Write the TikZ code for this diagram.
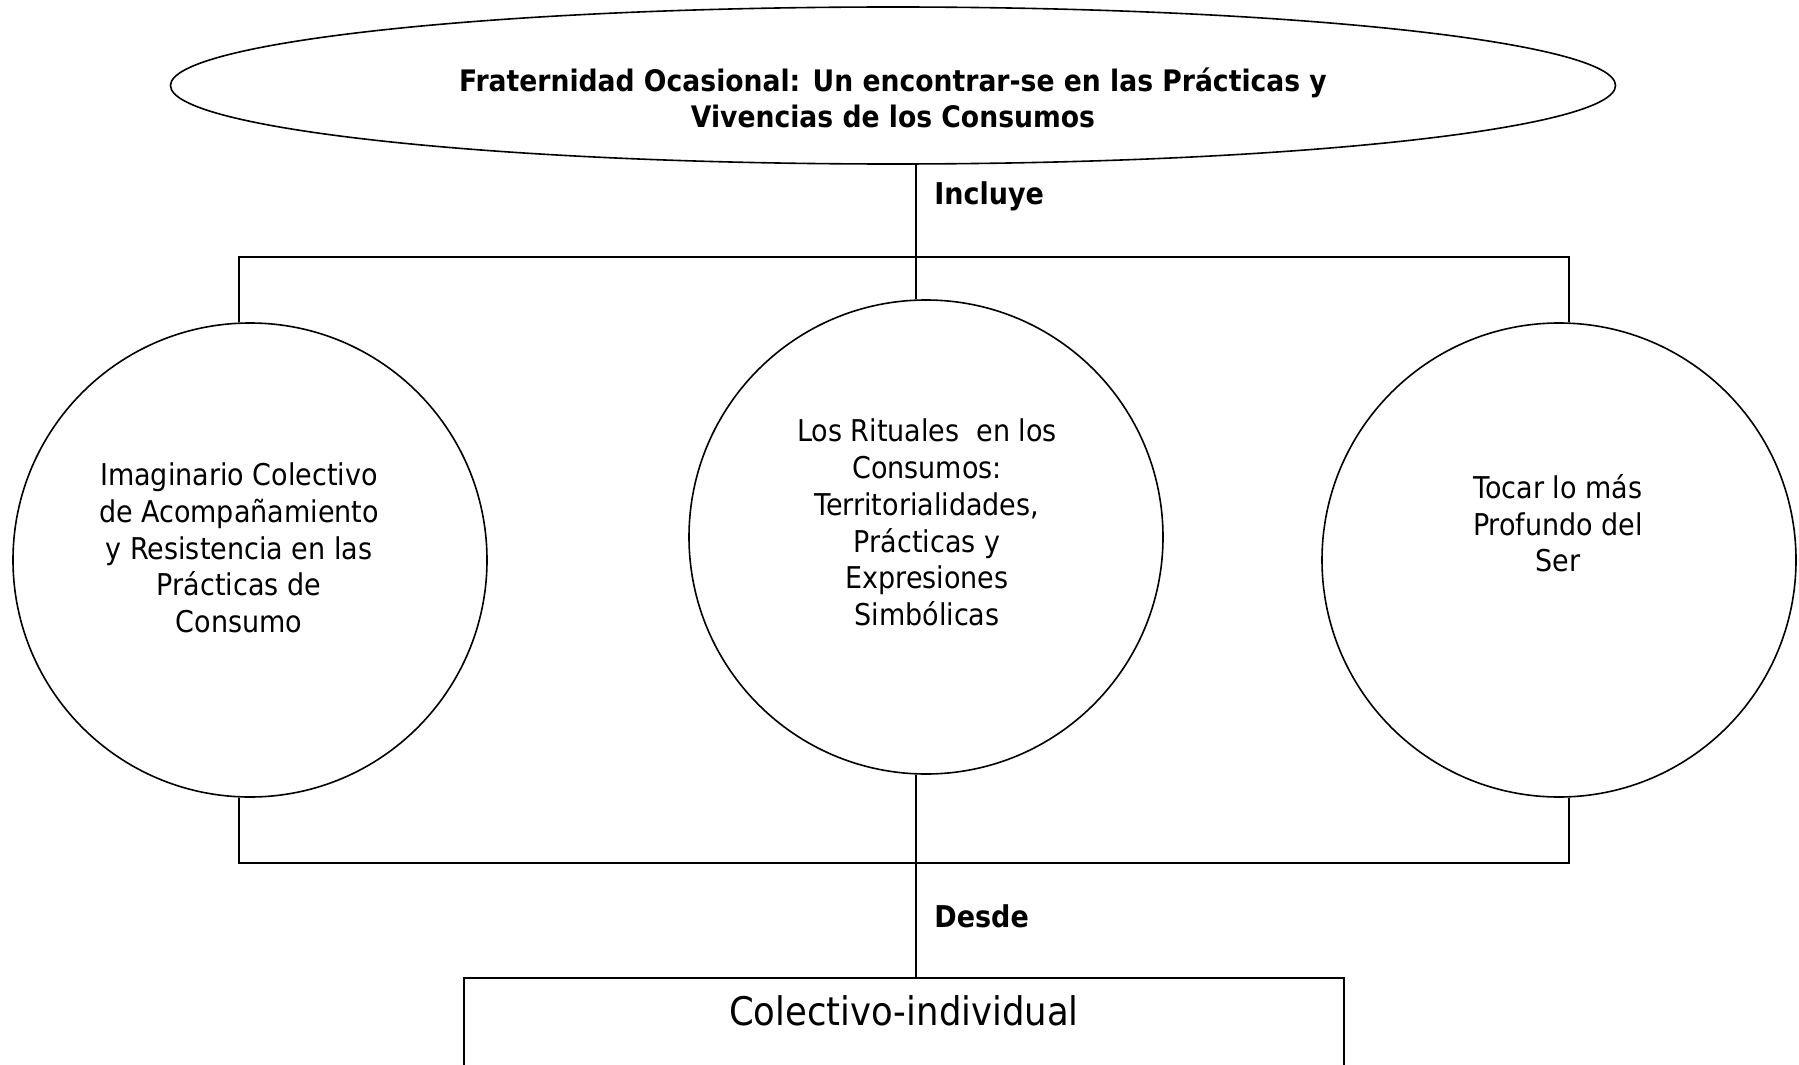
\documentclass[tikz,border=0pt]{standalone}
\usepackage{fontspec}
\setmainfont{DejaVuSansCondensed}[Extension=.ttf, BoldFont=DejaVuSansCondensed-Bold]
\usetikzlibrary{shapes.geometric}

\begin{document}
\begin{tikzpicture}[x=0.5pt, y=-0.5pt,
  every node/.style={inner sep=0pt, font=\fontsize{15pt}{18.35pt}\selectfont},
  oval/.style={draw, ellipse, line width=0.8pt, minimum width=722.5pt, minimum height=78.5pt},
  ring/.style={draw, circle, line width=0.8pt, minimum size=237pt},
  txt/.style={align=center},
  tag/.style={anchor=base west, font=\fontsize{15pt}{18.35pt}\selectfont\bfseries},
  box/.style={draw, rectangle, line width=0.8pt, anchor=north, minimum width=440pt,
    inner sep=9pt, text depth=80pt, font=\fontsize{19.7pt}{24pt}\selectfont}
]
\useasboundingbox (0,0) rectangle (1799,1065);
\clip (0,0) rectangle (1799,1065);

\node[oval] (title) at (893,85.5) {};
\node[txt, font=\fontsize{14.8pt}{18.35pt}\selectfont\bfseries] (titletxt) at (893,98)
  {Fraternidad Ocasional: Un encontrar-se en las Prácticas y\\ Vivencias de los Consumos};

\node[ring] (imag) at (250,560) {};
\node[ring] (rit) at (926,537) {};
\node[ring] (tocar) at (1559,560) {};

\node[txt] (imagtxt) at (239,548)
  {Imaginario Colectivo\\ de Acompañamiento\\ y Resistencia en las\\ Prácticas de\\ Consumo};
\node[txt] (rittxt) at (927,522.5)
  {Los Rituales\ \ en los\\ Consumos:\\ Territorialidades,\\ Prácticas y\\ Expresiones\\ Simbólicas};
\node[txt] (tocartxt) at (1558,523.5)
  {Tocar lo más\\ Profundo del\\ Ser};

\node[box] (colect) at (904,977) {Colectivo-individual};

\node[tag] (incl) at (934,204) {Incluye};
\node[tag] (desde) at (934,927) {Desde};

\coordinate (jtop) at (916,257);
\coordinate (jbot) at (916,863);

\draw[line width=0.8pt] ([xshift=11.5pt]title.south) -- ([xshift=-5pt]rit.north);
\draw[line width=0.8pt] ([xshift=-5.5pt]imag.north) |- (jtop) -| ([xshift=5pt]tocar.north);
\draw[line width=0.8pt] ([xshift=-5.5pt]imag.south) |- (jbot) -| ([xshift=5pt]tocar.south);
\draw[line width=0.8pt] ([xshift=-5pt]rit.south) -- (jbot) -- (jbot |- colect.north);
\end{tikzpicture}
\end{document}
